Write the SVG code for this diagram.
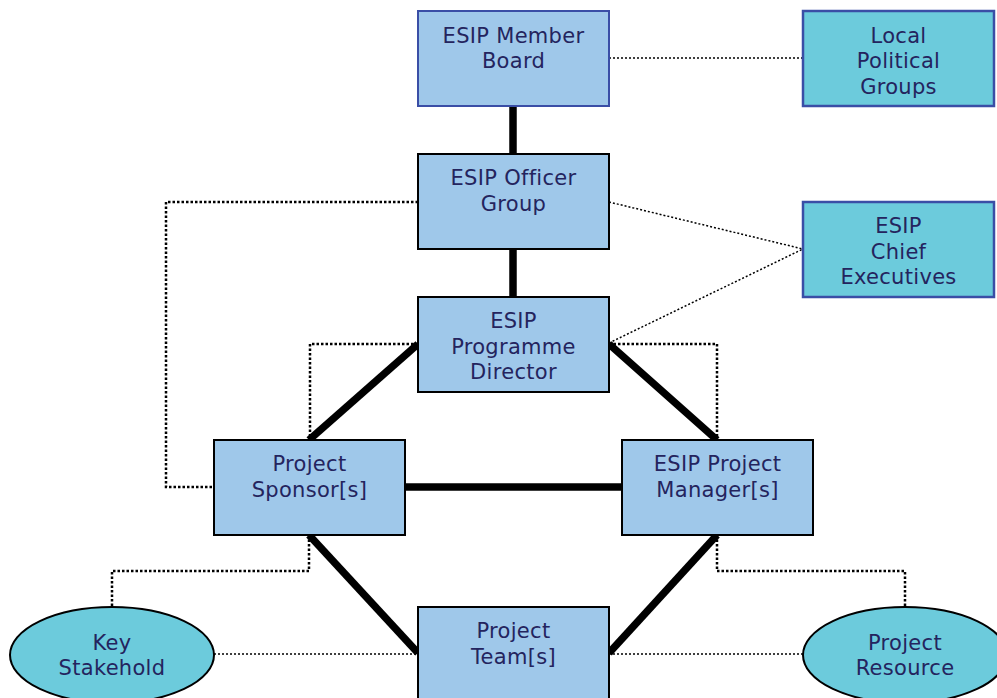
<svg xmlns="http://www.w3.org/2000/svg" width="997" height="698" viewBox="0 0 997 698">
<style>
.box{fill:#9fc8ea;stroke:#000;stroke-width:2}
.boxb{fill:#9fc8ea;stroke:#3a4ea6;stroke-width:2}
.cyan{fill:#6ccbdc;stroke:#3a4ea6;stroke-width:2.5}
.ell{fill:#6ccbdc;stroke:#000;stroke-width:2}
.t{font-family:"DejaVu Sans",Verdana,sans-serif;font-size:21px;letter-spacing:0.3px;fill:#24245e;text-anchor:middle}
.thick{stroke:#000;stroke-width:7.5;fill:none}
.dot{stroke:#000;stroke-width:1.5;stroke-dasharray:2 2;fill:none}
.dotb{stroke:#000;stroke-width:2.5;stroke-dasharray:2.5 2;fill:none}
</style>
<rect width="997" height="698" fill="#fff"/>
<g id="connectors">
<line class="thick" x1="513" y1="106" x2="513" y2="154"/>
<line class="thick" x1="513" y1="249" x2="513" y2="297"/>
<line class="thick" x1="418" y1="344" x2="309" y2="440"/>
<line class="thick" x1="609" y1="344" x2="717" y2="440"/>
<line class="thick" x1="405" y1="487" x2="622" y2="487"/>
<line class="thick" x1="309" y1="535" x2="418" y2="653"/>
<line class="thick" x1="717" y1="535" x2="609" y2="653"/>
<line class="dot" x1="609" y1="58" x2="803" y2="58"/>
<line class="dot" x1="609" y1="202" x2="803" y2="249"/>
<line class="dot" x1="609" y1="343" x2="803" y2="249"/>
<line class="dot" x1="214" y1="654" x2="418" y2="654"/>
<line class="dot" x1="609" y1="654" x2="803" y2="654"/>
<polyline class="dotb" points="418,202 166,202 166,487 214,487"/>
<polyline class="dotb" points="418,344 310,344 310,440"/>
<polyline class="dotb" points="609,344 717,344 717,440"/>
<polyline class="dotb" points="309,535 309,571 112,571 112,607"/>
<polyline class="dotb" points="717,535 717,571 905,571 905,607"/>
</g>
<g id="member-board"><rect class="boxb" x="418" y="11" width="191" height="95"/><text class="t" x="513.5" y="43">ESIP Member</text><text class="t" x="513.5" y="68">Board</text></g>
<g id="local-political"><rect class="cyan" x="803" y="11" width="191" height="95"/><text class="t" x="898.5" y="43">Local</text><text class="t" x="898.5" y="68">Political</text><text class="t" x="898.5" y="94">Groups</text></g>
<g id="officer-group"><rect class="box" x="418" y="154" width="191" height="95"/><text class="t" x="513.5" y="185">ESIP Officer</text><text class="t" x="513.5" y="211">Group</text></g>
<g id="chief-executives"><rect class="cyan" x="803" y="202" width="191" height="95"/><text class="t" x="898.5" y="233">ESIP</text><text class="t" x="898.5" y="259">Chief</text><text class="t" x="898.5" y="284">Executives</text></g>
<g id="programme-director"><rect class="box" x="418" y="297" width="191" height="95"/><text class="t" x="513.5" y="328">ESIP</text><text class="t" x="513.5" y="354">Programme</text><text class="t" x="513.5" y="379">Director</text></g>
<g id="project-sponsor"><rect class="box" x="214" y="440" width="191" height="95"/><text class="t" x="309.5" y="471">Project</text><text class="t" x="309.5" y="497">Sponsor[s]</text></g>
<g id="project-manager"><rect class="box" x="622" y="440" width="191" height="95"/><text class="t" x="717.5" y="471">ESIP Project</text><text class="t" x="717.5" y="497">Manager[s]</text></g>
<g id="project-team"><rect class="box" x="418" y="607" width="191" height="100"/><text class="t" x="513.5" y="638">Project</text><text class="t" x="513.5" y="664">Team[s]</text></g>
<g id="key-stakehold"><ellipse class="ell" cx="112" cy="655" rx="102" ry="48"/><text class="t" x="112" y="650">Key</text><text class="t" x="112" y="675">Stakehold</text></g>
<g id="project-resource"><ellipse class="ell" cx="905" cy="655" rx="102" ry="48"/><text class="t" x="905" y="650">Project</text><text class="t" x="905" y="675">Resource</text></g>
</svg>
